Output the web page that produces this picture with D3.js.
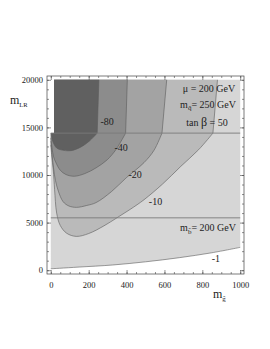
<!DOCTYPE html>
<html>
<head>
<meta charset="utf-8">
<script src="https://cdn.jsdelivr.net/npm/d3@7"></script>
<style>
  body { margin: 0; background: #fff; }
  svg { display: block; }
  text { font-family: "Liberation Serif", "Times New Roman", serif; fill: #222; }
</style>
</head>
<body>
<div id="chart"></div>
<script>

// contour lines below the m_LR = 14400 break, as [m_gluino, m_LR]
var cMinus1  = [[0,150],[45,200],[150,330],[327,546],[500,880],[678,1313],[850,1830],[1000,2400]];
var cMinus10 = [[0,13180],[5,12000],[13,10530],[20,8500],[31,6000],[50,4700],[84,3880],[135,3550],[200,3850],
                [280,4650],[349,5500],[420,6400],[492,7400],[590,9050],[686,10900],[780,12650],[856,14400]];
var cMinus20 = [[0,13550],[6,12300],[14,10800],[25,9400],[40,8300],[65,7200],[95,6750],[135,6600],[190,6800],
                [239,7100],[320,8250],[398,9700],[492,11300],[545,12600],[587,14400]];
var cMinus40 = [[0,13900],[6,12900],[15,11900],[27,11300],[50,10500],[80,10050],[124,9870],[180,10150],
                [239,10750],[298,11600],[345,12700],[395,14400]];
var cMinus80 = [[2,14400],[4,14050],[12,13450],[30,12850],[54,12640],[107,12560],[160,12950],[203,13550],[245,14400]];

// above the break the contours are almost straight: x at the break, x at the top
var upperLevels  = [-10, -20, -40, -80];
var upperAtBreak = [856, 587, 395, 245];
var upperAtTop   = [880, 612, 404, 254];
var upperLeft    = 17;

var breakLR = 14400, sbottomLR = 5500;

var levels = [-1, -10, -20, -40, -80];
var labelPos = [[872,1250],[553,7220],[445,10100],[371,12840],[297,15570]];

var xTicks = [0, 200, 400, 600, 800, 1000];
var yTicks = [0, 5000, 10000, 15000, 20000];

var W = 270, H = 349;

var x = d3.scaleLinear().domain([-20, 1020]).range([47, 244]),
    y = d3.scaleLinear().domain([-400, 20400]).range([274, 76]);

var shade = d3.scaleOrdinal()
    .domain(levels)
    .range(['#d6d6d6', '#bababa', '#a3a3a3', '#8c8c8c', '#606060']);

var svg = d3.select('#chart').append('svg')
    .attr('width', W).attr('height', H);

svg.append('rect').attr('width', W).attr('height', H).attr('fill', '#fff');

var curveLine = d3.line()
    .x(d => x(d[0])).y(d => y(d[1]))
    .curve(d3.curveCatmullRom.alpha(0.5));

var pt = p => 'L' + x(p[0]) + ',' + y(p[1]);

var contours = [cMinus1, cMinus10, cMinus20, cMinus40, cMinus80];

// closing points of each filled region (upper part + left edge)
function closing(i) {
  var top = i === 0 ? [[1000, 20000]] : [[upperAtTop[i-1], 20000]];
  var first = contours[i][0];
  return top.concat([[upperLeft, 20000], [upperLeft, breakLR], [0, breakLR], [0, first[1]]]);
}

var regions = svg.append('g').attr('class', 'regions');
contours.forEach(function (c, i) {
  regions.append('path')
    .attr('d', curveLine(c) + (i === 0 ? pt([1000, breakLR]) : '') + closing(i).map(pt).join('') + 'Z')
    .attr('fill', shade(levels[i]))
    .attr('stroke', 'none');
});

// contour strokes
var lines = svg.append('g').attr('class', 'lines')
    .attr('fill', 'none').attr('stroke', '#5a5a5a').attr('stroke-width', 0.6);
contours.forEach(function (c, i) {
  var d = curveLine(c);
  if (i > 0) d += pt([upperAtTop[i-1], 20000]);
  lines.append('path').attr('d', d);
});

// the two horizontal lines
svg.append('g').selectAll('line')
  .data([breakLR, sbottomLR]).enter()
  .append('line')
    .attr('x1', x(0)).attr('x2', x(1000))
    .attr('y1', d => y(d)).attr('y2', d => y(d))
    .attr('stroke', '#7a7a7a').attr('stroke-width', 0.9);

// contour labels
svg.append('g').selectAll('text')
  .data(levels).enter()
  .append('text')
    .attr('x', (d, i) => x(labelPos[i][0]))
    .attr('y', (d, i) => y(labelPos[i][1]))
    .attr('dy', '.35em')
    .style('text-anchor', 'middle')
    .style('font-size', '10px')
    .text(d => d);

// parameter notes
var notes = svg.append('g').style('font-size', '10px').style('text-anchor', 'middle');
notes.append('text').attr('x', 209).attr('y', 92).text('\u03bc = 200 GeV');
var mq = notes.append('text').attr('x', 208).attr('y', 107.5);
mq.append('tspan').text('m');
mq.append('tspan').attr('dy', 2.5).style('font-size', '7px').text('q\u0303');
mq.append('tspan').attr('dy', -2.5).text('= 250 GeV');
var tb = notes.append('text').attr('x', 207).attr('y', 125.5);
tb.append('tspan').text('tan ');
tb.append('tspan').style('font-size', '12px').text('\u03b2');
tb.append('tspan').text(' = 50');
var mb = notes.append('text').attr('x', 208).attr('y', 231);
mb.append('tspan').text('m');
mb.append('tspan').attr('dy', 2.5).style('font-size', '7px').text('b\u0303');
mb.append('tspan').attr('dy', -2.5).text('= 200 GeV');

// frame
svg.append('rect')
    .attr('x', 47).attr('y', 76)
    .attr('width', 197).attr('height', 198)
    .attr('fill', 'none').attr('stroke', '#444').attr('stroke-width', 0.7);

function ticks(axis, tr, size, vals, labels) {
  var g = svg.append('g').attr('transform', tr)
    .call(axis.tickValues(vals).tickSize(size).tickPadding(5)
      .tickFormat(labels ? d3.format('d') : ''));
  g.select('.domain').remove();
  g.selectAll('line').attr('stroke', '#444').attr('stroke-width', 0.6);
  g.selectAll('text').style('font-family', '"Liberation Serif", serif').style('font-size', '8.5px').attr('fill', '#222');
  return g;
}

var xMinor = d3.range(0, 1001, 50), yMinor = d3.range(0, 20001, 1000);

ticks(d3.axisBottom(x), 'translate(0,274)', -4, xTicks, true).selectAll('text').attr('y', 8);
ticks(d3.axisBottom(x), 'translate(0,274)', -2, xMinor, false);
ticks(d3.axisTop(x), 'translate(0,76)', -4, xTicks, false);
ticks(d3.axisTop(x), 'translate(0,76)', -2, xMinor, false);
ticks(d3.axisLeft(y), 'translate(47,0)', -4, yTicks, true).selectAll('text').attr('x', -4);
ticks(d3.axisLeft(y), 'translate(47,0)', -2, yMinor, false);
ticks(d3.axisRight(y), 'translate(244,0)', -4, yTicks, false);
ticks(d3.axisRight(y), 'translate(244,0)', -2, yMinor, false);

// axis titles
var yl = svg.append('text').attr('x', 10).attr('y', 104).style('font-size', '12px');
yl.append('tspan').text('m');
yl.append('tspan').attr('dy', 2.5).style('font-size', '6.5px').text('LR');

var xl = svg.append('text').attr('x', 213).attr('y', 298).style('font-size', '12px');
xl.append('tspan').text('m');
xl.append('tspan').attr('dy', 2.5).style('font-size', '7px').text('g\u0303');

</script>
</body>
</html>
